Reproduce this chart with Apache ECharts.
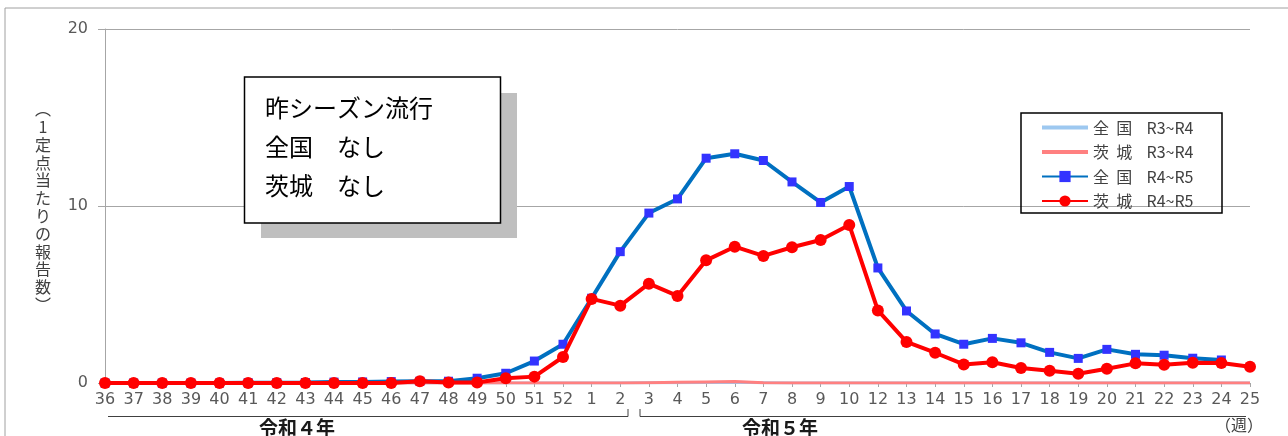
<!DOCTYPE html>
<html>
<head>
<meta charset="utf-8">
<script src="https://cdn.jsdelivr.net/npm/echarts@6/dist/echarts.min.js"></script>
<style>
html,body{margin:0;padding:0;background:#fff;}
#c{width:1288px;height:436px;}
</style>
</head>
<body>
<div id="c"></div>
<script>
// Week categories (week 11 is absent in the source chart)
const weeks = ['36','37','38','39','40','41','42','43','44','45','46','47','48','49','50','51','52',
  '1','2','3','4','5','6','7','8','9','10',
  '12','13','14','15','16','17','18','19','20','21','22','23','24','25'];

// 全国 R3~R4
const national34 = [0,0,0,0,0,0,0,0,0,0,0,0,0,0,0,0,0,
  0,0,0.01,0.02,0.03,0.04,0.02,0,0,0,
  0,0,0,0,0,0,0,0,0,0,0,0,0,0];
// 茨城 R3~R4
const ibaraki34 = [0,0,0,0,0,0,0,0,0,0,0,0,0,0,0,0,0,
  0,0,0.02,0.04,0.06,0.08,0.02,0,0,0,
  0,0,0,0,0,0,0,0,0,0,0,0,0,0];
// 全国 R4~R5
const national45 = [0,0,0,0,0,0.02,0.02,0.03,0.05,0.06,0.08,0.1,0.1,0.27,0.55,1.24,2.19,
  4.79,7.42,9.6,10.4,12.7,12.95,12.57,11.36,10.2,11.1,
  6.5,4.07,2.77,2.19,2.52,2.27,1.73,1.39,1.9,1.62,1.57,1.4,1.3,null];
// 茨城 R4~R5
const ibaraki45 = [0,0,0,0,0,0,0,0,0,0,0,0.1,0.03,0.03,0.27,0.36,1.47,
  4.75,4.37,5.61,4.92,6.93,7.7,7.18,7.67,8.08,8.93,
  4.1,2.32,1.71,1.05,1.17,0.85,0.69,0.52,0.81,1.11,1.03,1.15,1.13,0.92];

const yTicks = [0, 10, 20];
const seriesNames = ['全  国    R3~R4', '茨  城    R3~R4', '全  国    R4~R5', '茨  城    R4~R5'];
const yAxisName = '︵\n1\n定\n点\n当\nた\nり\nの\n報\n告\n数\n︶';
const boxLines = ['昨シーズン流行', '全国　なし', '茨城　なし'];
const eraLabels = ['令和４年', '令和５年'];
const unitLabel = '（週）';

const FONT = '"Noto Sans CJK JP", "Noto Sans", sans-serif';
const NUMFONT = '"DejaVu Sans", sans-serif';
const LINE_ICON = 'path://M0,0 L46,0 L46,4 L0,4 Z';
const chart = echarts.init(document.getElementById('c'), null, {renderer: 'canvas'});

chart.setOption({
  backgroundColor: '#ffffff',
  animation: false,
  grid: {left: 105, right: 38, top: 29, bottom: 53},
  xAxis: {
    type: 'category',
    data: weeks,
    boundaryGap: false,
    axisLine: {show: true, lineStyle: {color: '#a6a6a6', width: 1}},
    axisTick: {show: true, alignWithLabel: true, length: 4, lineStyle: {color: '#a6a6a6'}},
    axisLabel: {interval: 0, margin: 9, fontSize: 16, color: '#595959', fontFamily: NUMFONT},
    splitLine: {show: false}
  },
  yAxis: {
    type: 'value',
    min: yTicks[0], max: yTicks[yTicks.length - 1], interval: 10,
    axisLine: {show: true, lineStyle: {color: '#a6a6a6', width: 1}},
    axisTick: {show: true, length: 7, lineStyle: {color: '#a6a6a6'}},
    axisLabel: {margin: 17, fontSize: 16, color: '#595959', fontFamily: NUMFONT},
    splitLine: {show: true, lineStyle: {color: '#a6a6a6', width: 1}}
  },
  legend: {
    orient: 'vertical',
    left: 1021, top: 114,
    padding: [5, 10, 5, 20],
    itemGap: 7.5,
    itemWidth: 46, itemHeight: 14,
    textStyle: {fontSize: 16, lineHeight: 17, color: '#404040', fontFamily: FONT},
    data: [
      {name: seriesNames[0], icon: LINE_ICON},
      {name: seriesNames[1], icon: LINE_ICON},
      {name: seriesNames[2]},
      {name: seriesNames[3]}
    ]
  },
  series: [
    {name: seriesNames[0], type: 'line', data: national34, symbol: 'none',
     lineStyle: {color: '#9dc8f0', width: 3}, itemStyle: {color: '#9dc8f0'}, z: 1},
    {name: seriesNames[1], type: 'line', data: ibaraki34, symbol: 'none',
     lineStyle: {color: '#ff8080', width: 3}, itemStyle: {color: '#ff8080'}, z: 2},
    {name: seriesNames[2], type: 'line', data: national45, symbol: 'rect', symbolSize: 9,
     lineStyle: {color: '#0070c0', width: 4}, itemStyle: {color: '#3333ff', borderWidth: 0}, z: 3},
    {name: seriesNames[3], type: 'line', data: ibaraki45, symbol: 'circle', symbolSize: 12,
     lineStyle: {color: '#ff0000', width: 4}, itemStyle: {color: '#ff0000', borderWidth: 0}, z: 4}
  ],
  graphic: [
    // outer frame
    {type: 'rect', shape: {x: 5, y: 8, width: 1300, height: 500}, style: {fill: 'none', stroke: '#a0a0a0', lineWidth: 1}, z: 0, silent: true},
    // legend frame
    {type: 'rect', shape: {x: 1021, y: 113, width: 201, height: 100}, style: {fill: 'none', stroke: '#000', lineWidth: 1.5}, z: 100, silent: true},
    // text box shadow and box
    {type: 'rect', shape: {x: 261, y: 93, width: 256, height: 145}, style: {fill: '#bfbfbf'}, z: 50, silent: true},
    {type: 'rect', shape: {x: 244.5, y: 77, width: 256, height: 146}, style: {fill: '#ffffff', stroke: '#000', lineWidth: 1.5}, z: 51, silent: true},
    {type: 'text', left: 265, top: 96, z: 52, style: {text: boxLines[0], font: '24px ' + FONT, fill: '#000'}},
    {type: 'text', left: 265, top: 135, z: 52, style: {text: boxLines[1], font: '24px ' + FONT, fill: '#000'}},
    {type: 'text', left: 265, top: 174, z: 52, style: {text: boxLines[2], font: '24px ' + FONT, fill: '#000'}},
    // y axis name (vertical)
    {type: 'text', x: 43, y: 207, z: 10,
     style: {text: yAxisName, font: '16px ' + FONT, fill: '#404040', align: 'center', verticalAlign: 'middle', lineHeight: 17.8}},
    // brackets
    {type: 'polyline', shape: {points: [[108, 416.5], [628, 416.5], [628, 409]]}, style: {stroke: '#404040', lineWidth: 1, fill: 'none'}, silent: true},
    {type: 'polyline', shape: {points: [[640, 409], [640, 416.5], [1246, 416.5]]}, style: {stroke: '#404040', lineWidth: 1, fill: 'none'}, silent: true},
    {type: 'text', x: 297, y: 428, style: {text: eraLabels[0], font: 'bold 19px ' + FONT, fill: '#1a1a1a', align: 'center', verticalAlign: 'middle'}},
    {type: 'text', x: 780, y: 428, style: {text: eraLabels[1], font: 'bold 19px ' + FONT, fill: '#1a1a1a', align: 'center', verticalAlign: 'middle'}},
    {type: 'text', x: 1239, y: 425, style: {text: unitLabel, font: '16px ' + FONT, fill: '#404040', align: 'center', verticalAlign: 'middle'}}
  ]
});
</script>
</body>
</html>
